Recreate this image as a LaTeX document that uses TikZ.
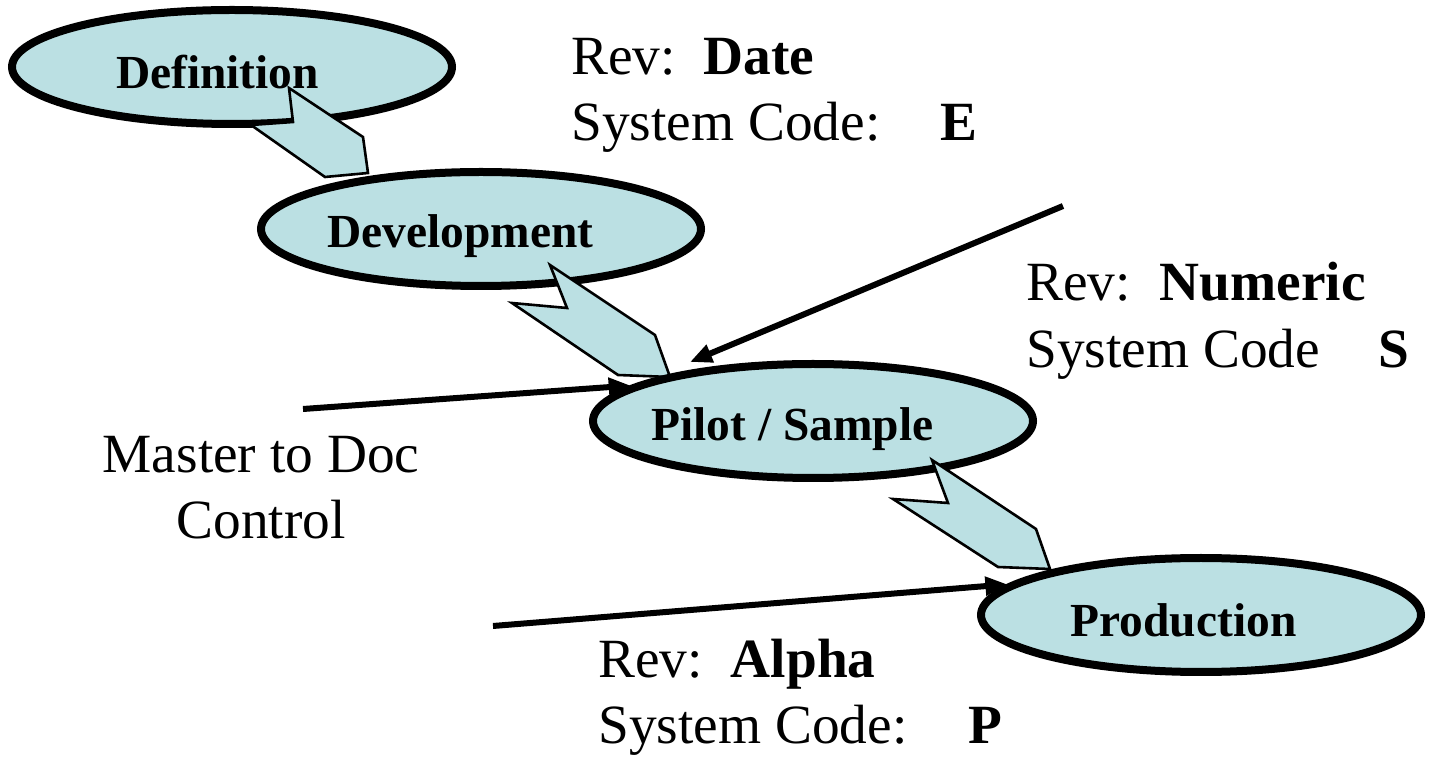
\documentclass[tikz,border=0pt]{standalone}
\usepackage{fontspec}
\setmainfont{Liberation Serif}
\usetikzlibrary{shapes.geometric,arrows.meta}
\newlength\pxu
\setlength\pxu{0.02cm}
\definecolor{stagefill}{RGB}{187,224,227}
\begin{document}
\begin{tikzpicture}[x=\pxu,y=-\pxu,
  stage/.style={ellipse, draw=black, line width=8\pxu, fill=stagefill,
    minimum width=440\pxu, minimum height=114\pxu, inner sep=0pt},
  stagelabel/.style={anchor=base, inner sep=0pt,
    font=\fontsize{27}{32}\selectfont\bfseries},
  flow/.style={draw=black, line width=2.6\pxu, fill=stagefill, line join=miter},
  feed/.style={line width=6\pxu, -{Triangle[length=0.44cm,width=0.36cm]}},
  note/.style={anchor=base west, inner sep=0pt, font=\fontsize{31.5}{38}\selectfont},
  notec/.style={anchor=base, inner sep=0pt, font=\fontsize{31.5}{38}\selectfont}]
\useasboundingbox (0,0) rectangle (1430,759);

% stage 1 and the chevron leading to stage 2
\node[stage] (def) at (232,67) {};
\node[stagelabel] (deftext) at (217.5,89) {Definition};
\draw[flow] (289,88) -- (293,122) -- (251,125) -- (325,177) -- (368,173) -- (363,137) -- cycle;

% stage 2 and the chevron leading to stage 3
\node[stage] (dev) at (481,229) {};
\node[stagelabel] (devtext) at (460.5,248) {Development};
\draw[flow] (550,265) -- (567,308) -- (512,303) -- (618,375) -- (670,377) -- (655,335) -- cycle;

% stage 3 and the chevron leading to stage 4
\node[stage] (pilot) at (813,421) {};
\node[stagelabel] (pilottext) at (792.5,441) {Pilot / Sample};
\draw[flow] (932,460) -- (948,503) -- (893,499) -- (998,567) -- (1050,569) -- (1036,529) -- cycle;

% stage 4
\node[stage] (prod) at (1201,615) {};
\node[stagelabel] (prodtext) at (1183.5,637) {Production};

% revision notes
\node[note] (revE) at (571,75) {Rev:\hspace{28\pxu}\textbf{Date}};
\node[note] (codeE) at (571,141) {System Code:\hspace{60\pxu}\textbf{E}};
\node[note] (revS) at (1026,301) {Rev:\hspace{29\pxu}\textbf{Numeric}};
\node[note] (codeS) at (1026,368) {System Code\hspace{58\pxu}\textbf{S}};
\node[note] (revP) at (598,678) {Rev:\hspace{28\pxu}\textbf{Alpha}};
\node[note] (codeP) at (598,744) {System Code:\hspace{61\pxu}\textbf{P}};
\node[notec] (master1) at (261,473) {Master to Doc};
\node[notec] (master2) at (261,539) {Control};

% feed lines into the stages
\coordinate (numstart) at (1063,206);
\coordinate (numend) at (690,362);
\draw[feed] (numstart) -- (numend);
\coordinate (docstart) at (303,409);
\draw[feed] (docstart) -- (pilot.169);
\coordinate (alphastart) at (493,626);
\draw[feed] (alphastart) -- (prod.171);
\end{tikzpicture}
\end{document}
